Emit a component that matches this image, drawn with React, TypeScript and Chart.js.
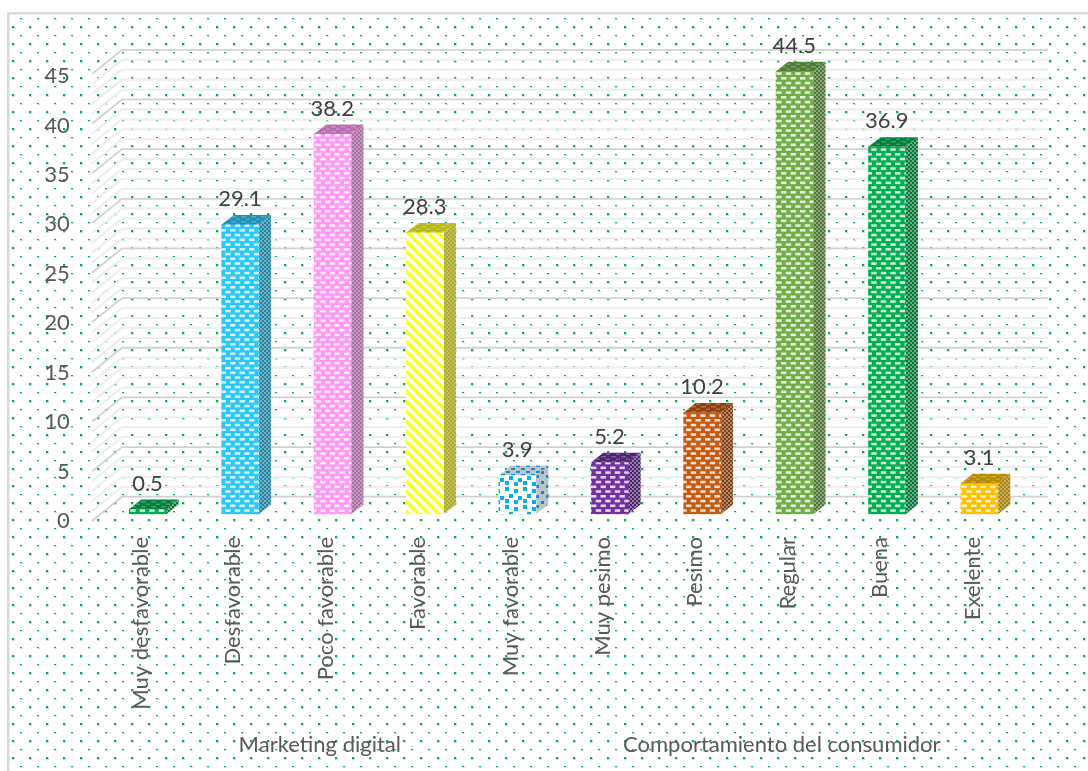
import React, { useEffect, useRef } from "react";
import { Chart, registerables } from "chart.js";

Chart.register(...registerables);

const categories = [
  "Muy desfavorable",
  "Desfavorable",
  "Poco favorable",
  "Favorable",
  "Muy favorable",
  "Muy pesimo",
  "Pesimo",
  "Regular",
  "Buena",
  "Exelente",
];
const percentages = [0.5, 29.1, 38.2, 28.3, 3.9, 5.2, 10.2, 44.5, 36.9, 3.1];
const groupNames = ["Marketing digital", "Comportamiento del consumidor"];
const barColors = [
  "#00b050",
  "#2cc6f8",
  "#ff99f5",
  "#ffff1e",
  "#08aeee",
  "#7030a0",
  "#c55a11",
  "#70ad47",
  "#00b050",
  "#ffc000",
];
const barFills = ["brick", "brick", "brick", "stripe", "confetti", "brick", "brick", "brick", "brick", "brick"];

const FONT = "Lato";
const WALL_DX = 30;
const WALL_DY = -24.3;
const DEPTH_X = 12;
const DEPTH_Y = -9.5;

function shade(hex: string, k: number): string {
  const n = parseInt(hex.slice(1), 16);
  const r = Math.round(((n >> 16) & 255) * k);
  const g = Math.round(((n >> 8) & 255) * k);
  const b = Math.round((n & 255) * k);
  return `rgb(${r},${g},${b})`;
}

function tile(w: number, h: number, paint: (c: CanvasRenderingContext2D) => void): CanvasPattern {
  const cv = document.createElement("canvas");
  cv.width = w;
  cv.height = h;
  const c = cv.getContext("2d") as CanvasRenderingContext2D;
  paint(c);
  return c.createPattern(cv, "repeat") as CanvasPattern;
}

function frontPattern(kind: string, color: string): CanvasPattern {
  if (kind === "stripe") {
    return tile(10, 10, (c) => {
      c.fillStyle = color;
      c.fillRect(0, 0, 10, 10);
      c.strokeStyle = "rgba(255,255,255,0.92)";
      c.lineWidth = 3.6;
      for (let i = -10; i <= 10; i += 10) {
        c.beginPath();
        c.moveTo(i - 2, -2);
        c.lineTo(i + 12, 12);
        c.stroke();
      }
    });
  }
  if (kind === "confetti") {
    return tile(18, 18, (c) => {
      c.fillStyle = "#ffffff";
      c.fillRect(0, 0, 18, 18);
      c.fillStyle = color;
      const spots = [
        [1, 1],
        [10, 3],
        [5, 8],
        [14, 10],
        [1, 13],
        [10, 14],
      ];
      spots.forEach(([x, y]) => c.fillRect(x, y, 4, 4));
    });
  }
  return tile(19, 19, (c) => {
    c.fillStyle = color;
    c.fillRect(0, 0, 19, 19);
    c.fillStyle = "rgba(255,255,255,0.8)";
    for (let row = 0; row < 4; row++) {
      const y = row * 4.75 + 1;
      const shift = row % 2 === 0 ? 0 : 4.75;
      for (let col = -1; col < 3; col++) {
        c.fillRect(col * 9.5 + shift + 2, y, 5.4, 2.6);
      }
    }
  });
}

function sidePattern(kind: string, color: string): CanvasPattern {
  if (kind === "confetti") {
    return tile(10, 10, (c) => {
      c.fillStyle = "#b9c4ca";
      c.fillRect(0, 0, 10, 10);
      c.fillStyle = "#1f86b8";
      c.fillRect(1, 1, 3, 3);
      c.fillRect(6, 5, 3, 3);
    });
  }
  return tile(4, 4, (c) => {
    c.fillStyle = shade(color, 0.68);
    c.fillRect(0, 0, 4, 4);
    c.fillStyle = "rgba(205,205,205,0.55)";
    c.fillRect(0, 0, 2, 2);
    c.fillRect(2, 2, 2, 2);
  });
}

function topPattern(kind: string, color: string): CanvasPattern {
  if (kind === "confetti") {
    return tile(10, 6, (c) => {
      c.fillStyle = "#b9c8d0";
      c.fillRect(0, 0, 10, 6);
      c.fillStyle = "#1f86b8";
      c.fillRect(1, 0, 4, 2);
      c.fillRect(6, 3, 4, 2);
    });
  }
  return tile(10, 5, (c) => {
    c.fillStyle = shade(color, 0.72);
    c.fillRect(0, 0, 10, 5);
    c.fillStyle = "rgba(255,255,255,0.25)";
    c.fillRect(1, 1, 5, 1.5);
    c.fillRect(6, 3.5, 4, 1.5);
  });
}

// Page background: a light frame on the top and left with a sparse green dot weave.
const backdrop = {
  id: "backdrop",
  beforeDraw(chart: any) {
    const { ctx, width, height } = chart;
    const dots = tile(17, 17, (c) => {
      c.fillStyle = "#00b050";
      c.fillRect(12, 9, 2, 2);
      c.fillRect(3, 1, 2, 1);
      c.fillStyle = "rgba(0,176,80,0.28)";
      c.fillRect(14, 9, 1, 2);
      c.fillRect(12, 11, 3, 1);
      c.fillRect(3, 2, 3, 1);
    });
    ctx.save();
    ctx.fillStyle = "#ffffff";
    ctx.fillRect(0, 0, width, height);
    ctx.fillStyle = dots;
    ctx.fillRect(10, 15, width - 10, height - 15);
    ctx.fillStyle = "#d9d9d9";
    ctx.fillRect(7, 12, width - 7, 2.5);
    ctx.fillRect(7, 12, 2.5, height - 12);
    ctx.restore();
  },
};

// Back wall and side wall of the 3D box, one line per unit on the value axis.
const walls = {
  id: "walls",
  beforeDatasetsDraw(chart: any) {
    const { ctx, chartArea } = chart;
    const y = chart.scales.yWall;
    const backLeft = chartArea.left + 20.2;
    const backRight = 1048;
    const frontLeft = backLeft - WALL_DX;
    ctx.save();
    for (const majorPass of [false, true]) {
      for (let v = 0; v <= 45; v++) {
        const major = v % 5 === 0;
        if (major !== majorPass) continue;
        const py = y.getPixelForValue(v);
        ctx.strokeStyle = major ? "#d2d2d2" : "#eeeeee";
        ctx.lineWidth = major ? 1.8 : 2.2;
        ctx.beginPath();
        ctx.moveTo(frontLeft, py);
        ctx.lineTo(backLeft, py + WALL_DY);
        ctx.lineTo(backRight, py + WALL_DY);
        ctx.stroke();
      }
    }
    ctx.restore();
  },
};

// Side and top faces for each bar, plus the value printed above it.
const barFaces = {
  id: "barFaces",
  afterDatasetsDraw(chart: any) {
    const { ctx } = chart;
    const meta = chart.getDatasetMeta(0);
    ctx.save();
    meta.data.forEach((bar: any, i: number) => {
      const color = barColors[i];
      const left = bar.x - bar.width / 2;
      const right = bar.x + bar.width / 2;
      ctx.fillStyle = sidePattern(barFills[i], color);
      ctx.beginPath();
      ctx.moveTo(right, bar.y);
      ctx.lineTo(right + DEPTH_X, bar.y + DEPTH_Y);
      ctx.lineTo(right + DEPTH_X, bar.base + DEPTH_Y);
      ctx.lineTo(right, bar.base);
      ctx.closePath();
      ctx.fill();
      ctx.fillStyle = topPattern(barFills[i], color);
      ctx.beginPath();
      ctx.moveTo(left, bar.y);
      ctx.lineTo(left + DEPTH_X, bar.y + DEPTH_Y);
      ctx.lineTo(right + DEPTH_X, bar.y + DEPTH_Y);
      ctx.lineTo(right, bar.y);
      ctx.closePath();
      ctx.fill();
      ctx.fillStyle = "#404040";
      ctx.font = `22px ${FONT}`;
      ctx.textAlign = "center";
      ctx.textBaseline = "middle";
      ctx.fillText(percentages[i].toFixed(1), bar.x - 0.5, bar.y + DEPTH_Y - 16);
    });
    ctx.restore();
  },
};

export default function App() {
  const canvasRef = useRef<HTMLCanvasElement | null>(null);

  useEffect(() => {
    const canvas = canvasRef.current as HTMLCanvasElement;
    const chart = new Chart(canvas, {
      type: "bar",
      data: {
        labels: categories,
        datasets: [
          {
            data: percentages,
            yAxisID: "yBar",
            xAxisID: "x",
            backgroundColor: barColors.map((c, i) => frontPattern(barFills[i], c)),
            borderWidth: 0,
            barThickness: 37.4,
            clip: false,
          } as any,
        ],
      },
      options: {
        responsive: false,
        animation: false,
        devicePixelRatio: 1,
        layout: { padding: { top: 76, right: 62.2, left: 0, bottom: 0 } },
        plugins: { legend: { display: false }, tooltip: { enabled: false }, title: { display: false } },
        scales: {
          x: {
            type: "category",
            labels: categories,
            position: "bottom",
            grid: { display: false, drawTicks: false },
            border: { display: false },
            afterFit(scale: any) {
              scale.height = 190;
            },
            ticks: {
              autoSkip: false,
              minRotation: 90,
              maxRotation: 90,
              padding: 16,
              labelOffset: -7,
              color: "#595959",
              font: { family: FONT, size: 22 },
            },
          },
          xGroup: {
            type: "category",
            labels: groupNames,
            position: "bottom",
            offset: true,
            grid: { display: false, drawTicks: false },
            border: { display: false },
            afterFit(scale: any) {
              scale.height = 60;
            },
            ticks: {
              autoSkip: false,
              maxRotation: 0,
              padding: 21,
              labelOffset: -13,
              color: "#595959",
              font: { family: FONT, size: 22 },
            },
          },
          y: {
            type: "linear",
            min: 0,
            max: 45,
            position: "left",
            grid: { display: false, drawTicks: false },
            border: { display: false },
            afterFit(scale: any) {
              scale.width = 101.8;
            },
            ticks: {
              stepSize: 5,
              padding: 32,
              color: "#595959",
              font: { family: FONT, size: 22 },
            },
          },
          // The columns stand a little further back than the tick labels,
          // so they get their own hidden axis over the same plot height.
          yBar: {
            type: "linear",
            display: false,
            min: -0.7035,
            max: 44.02,
          },
          // Wall lines run on a slightly taller pitch than the tick labels.
          yWall: {
            type: "linear",
            display: false,
            min: 0,
            max: 44.81,
          },
        },
      } as any,
      plugins: [backdrop, walls, barFaces],
    });
    return () => chart.destroy();
  }, []);

  return (
    <div style={{ position: "absolute", left: 0, top: 0, width: 1088, height: 771 }}>
      <canvas ref={canvasRef} width={1088} height={771} style={{ display: "block" }} />
    </div>
  );
}
